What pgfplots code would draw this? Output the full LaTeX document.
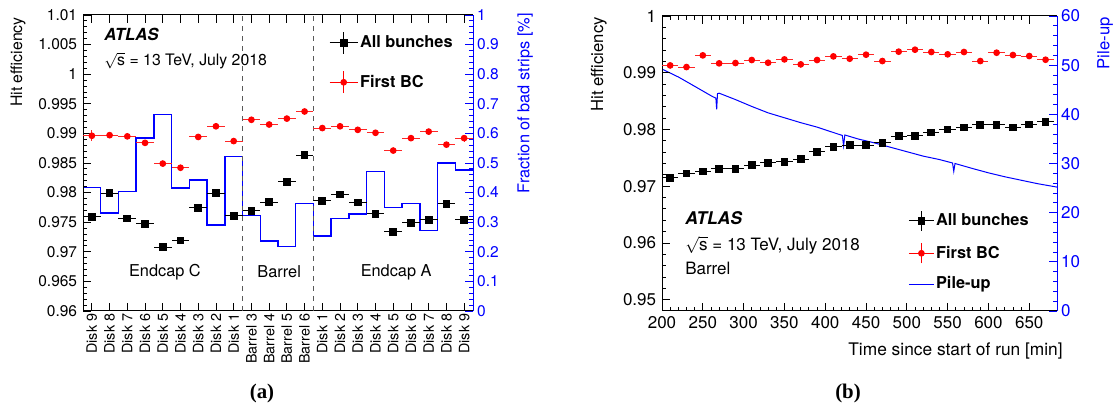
\documentclass[border=0pt]{standalone}
\usepackage{pgfplots}
\pgfplotsset{compat=1.18}
\usepackage{pgfplotstable}
\usepackage{fontspec}
\setmainfont{TeX Gyre Heros}
\newfontfamily\serifbf{Liberation Serif}

\pgfplotstableread{
x ab abe fb fbe
0 0.9759 0.0002 0.9896 0.0009
1 0.9799 0.0002 0.9897 0.0003
2 0.9756 0.0002 0.9895 0.0003
3 0.9747 0.0002 0.9884 0.0003
4 0.9708 0.0002 0.9849 0.0003
5 0.9719 0.0002 0.9842 0.0003
6 0.9774 0.0002 0.9894 0.0003
7 0.9799 0.0002 0.9912 0.0003
8 0.9761 0.0002 0.9887 0.0003
9 0.9769 0.0002 0.9923 0.0003
10 0.9784 0.0002 0.9915 0.0003
11 0.9818 0.0002 0.9925 0.0003
12 0.9863 0.0002 0.9937 0.0003
13 0.9786 0.0002 0.9909 0.0003
14 0.9797 0.0002 0.9912 0.0003
15 0.9783 0.0002 0.9906 0.0003
16 0.9764 0.0002 0.9901 0.0003
17 0.9734 0.0002 0.9871 0.0003
18 0.9749 0.0002 0.9892 0.0003
19 0.9754 0.0002 0.9903 0.0003
20 0.9781 0.0002 0.9881 0.0003
21 0.9754 0.0002 0.9892 0.0006
}\leftdata

\pgfplotstableread{
x h
-0.5 0.418
0.5 0.331
1.5 0.403
2.5 0.584
3.5 0.663
4.5 0.416
5.5 0.442
6.5 0.291
7.5 0.522
8.5 0.322
9.5 0.236
10.5 0.218
11.5 0.364
12.5 0.254
13.5 0.313
14.5 0.328
15.5 0.472
16.5 0.349
17.5 0.364
18.5 0.272
19.5 0.500
20.5 0.476
21.5 0.476
}\histdata

\pgfplotstableread{
t ab abe fb fbe
210 0.97147 0.00012 0.99129 0.00025
230 0.97224 0.00012 0.99100 0.00025
250 0.97259 0.00012 0.99306 0.00025
270 0.97306 0.00012 0.99165 0.00025
290 0.97306 0.00012 0.99171 0.00025
310 0.97371 0.00012 0.99224 0.00025
330 0.97412 0.00012 0.99176 0.00025
350 0.97429 0.00012 0.99235 0.00025
370 0.97476 0.00012 0.99147 0.00025
390 0.97606 0.00012 0.99224 0.00025
410 0.97694 0.00012 0.99288 0.00025
430 0.97724 0.00012 0.99247 0.00025
450 0.97724 0.00012 0.99318 0.00025
470 0.97765 0.00012 0.99206 0.00025
490 0.97882 0.00012 0.99371 0.00025
510 0.97888 0.00012 0.99406 0.00025
530 0.97947 0.00012 0.99365 0.00025
550 0.98000 0.00012 0.99324 0.00025
570 0.98035 0.00012 0.99365 0.00025
590 0.98082 0.00012 0.99206 0.00025
610 0.98082 0.00012 0.99353 0.00025
630 0.98035 0.00012 0.99312 0.00025
650 0.98088 0.00012 0.99294 0.00025
670 0.98135 0.00012 0.99229 0.00025
}\rightdata

\pgfplotstableread{
t pu
200 49.2
220 47.6
240 45.7
262 43.6
266 43.3
267 41.0
268 44.2
270 44.3
290 43.0
310 41.6
330 40.3
350 39.3
370 38.3
390 37.4
410 36.3
421 35.7
422.5 33.6
424 35.8
440 35.0
460 34.2
480 33.3
500 32.4
520 31.5
540 30.8
556 30.1
557.5 28.4
559 30.0
580 29.0
600 28.1
620 27.3
640 26.6
660 25.9
684 25.2
}\pudata

\pgfplotsset{
  every axis/.append style={
    scale only axis,
    tick align=inside,
    /pgf/number format/assume math mode=true,
    major tick length=5pt,
    minor tick length=2.6pt,
    every tick/.style={line width=0.5pt},
    axis line style={line width=0.6pt},
  },
  allb/.style={black, only marks, mark=square*, mark size=2pt, line width=0.6pt,
    error bars/.cd, x dir=both, x fixed=#1, y dir=both, y explicit,
    error mark=none, error bar style={black, line width=0.6pt}},
  firstbc/.style={red, only marks, mark=*, mark size=1.7pt, line width=0.6pt,
    error bars/.cd, x dir=both, x fixed=#1, y dir=both, y explicit,
    error mark=none, error bar style={red!85!white, line width=0.6pt}},
}

\newcommand{\rts}{\smash{$\sqrt{\mbox{s}}$}}

\begin{document}
\begin{tikzpicture}
\useasboundingbox (0,0) rectangle (669pt,245.4pt);

% ---------------- Panel (a): blue right axis ----------------
\begin{axis}[at={(49.8pt,58.8pt)}, anchor=south west,
  width=234pt, height=177.6pt,
  xmin=-0.5, xmax=21.5, ymin=0, ymax=1,
  axis x line=none, axis y line*=right,
  ytick={0,0.1,0.2,0.3,0.4,0.5,0.6,0.7,0.8,0.9,1},
  minor y tick num=4,
  y axis line style={blue, line width=0.6pt},
  every y tick/.style={blue, line width=0.5pt},
  yticklabel style={blue, font=\fontsize{9.3}{10}\selectfont, xshift=-1pt},
  yticklabel={\pgfmathprintnumber[fixed, precision=1]{\tick}},
]
\addplot[blue, line width=0.9pt, const plot mark left] table[x=x, y=h] {\histdata};
\end{axis}

% ---------------- Panel (a): main axis ----------------
\begin{axis}[at={(49.8pt,58.8pt)}, anchor=south west,
  width=234pt, height=177.6pt,
  xmin=-0.5, xmax=21.5, ymin=0.96, ymax=1.01,
  axis y line*=left,
  xtick={0,...,21},
  xticklabels={Disk 9,Disk 8,Disk 7,Disk 6,Disk 5,Disk 4,Disk 3,Disk 2,Disk 1,Barrel 3,Barrel 4,Barrel 5,Barrel 6,Disk 1,Disk 2,Disk 3,Disk 4,Disk 5,Disk 6,Disk 7,Disk 8,Disk 9},
  xticklabel style={rotate=90, anchor=east, font=\fontsize{8.6}{9}\selectfont, inner sep=1.5pt},
  xtick pos=both,
  ytick={0.96,0.965,0.97,0.975,0.98,0.985,0.99,0.995,1,1.005,1.01},
  minor y tick num=4,
  yticklabel style={font=\fontsize{9.3}{10}\selectfont},
  yticklabel={\pgfmathprintnumber[fixed, precision=3]{\tick}},
  legend style={at={(rel axis cs:0.63,0.945)}, anchor=north west, draw=none, fill=none,
    font=\bfseries\fontsize{9.8}{10}\selectfont, row sep=10pt, inner sep=0pt,
    nodes={inner sep=1pt}},
  legend cell align=left,
]
\addplot[gray!70!black, dashed, line width=0.7pt, forget plot] coordinates {(8.5,0.96) (8.5,1.01)};
\addplot[gray!70!black, dashed, line width=0.7pt, forget plot] coordinates {(12.5,0.96) (12.5,1.01)};
\addplot[legend image code/.code={
    \draw[black, line width=0.6pt] (0pt,0pt) -- (17pt,0pt) (8.5pt,-6.5pt) -- (8.5pt,6.5pt);
    \draw[black, mark=square*, mark size=2pt] plot coordinates {(8.5pt,0pt)};}, allb=0.5]
  table[x=x, y=ab, y error=abe] {\leftdata};
\addlegendentry{All bunches}
\addplot[legend image code/.code={
    \draw[red, line width=0.6pt] (0pt,0pt) -- (17pt,0pt) (8.5pt,-6.5pt) -- (8.5pt,6.5pt);
    \draw[red, mark=*, mark size=1.7pt] plot coordinates {(8.5pt,0pt)};}, firstbc=0.5]
  table[x=x, y=fb, y error=fbe] {\leftdata};
\addlegendentry{First BC}
\node[anchor=west, font=\bfseries\itshape\fontsize{10}{11}\selectfont, inner sep=0pt] at (rel axis cs:0.054,0.936) {ATLAS};
\node[anchor=west, font=\fontsize{9.5}{10}\selectfont, inner sep=0pt] at (rel axis cs:0.054,0.842) {\rts{} = 13 TeV, July 2018};
\node[font=\fontsize{9.8}{10}\selectfont] at (rel axis cs:0.210,0.132) {Endcap C};
\node[font=\fontsize{9.8}{10}\selectfont] at (rel axis cs:0.503,0.132) {Barrel};
\node[font=\fontsize{9.8}{10}\selectfont] at (rel axis cs:0.803,0.132) {Endcap A};
\end{axis}

% ---------------- Panel (b): blue right axis ----------------
\begin{axis}[at={(397.2pt,58.8pt)}, anchor=south west,
  width=237pt, height=177pt,
  xmin=200, xmax=684, ymin=0, ymax=60,
  axis x line=none, axis y line*=right,
  ytick={0,10,20,30,40,50,60},
  minor y tick num=4,
  y axis line style={blue, line width=0.6pt},
  every y tick/.style={blue, line width=0.5pt},
  yticklabel style={blue, font=\fontsize{10.2}{11}\selectfont, xshift=-1pt},
]
\addplot[blue, line width=0.6pt] table[x=t, y=pu] {\pudata};
\end{axis}

% ---------------- Panel (b): main axis ----------------
\begin{axis}[at={(397.2pt,58.8pt)}, anchor=south west,
  width=237pt, height=177pt,
  xmin=200, xmax=684, ymin=0.948, ymax=1,
  axis y line*=left,
  xtick={200,250,...,650},
  minor x tick num=4,
  xtick pos=both,
  xticklabel style={font=\fontsize{10.2}{11}\selectfont},
  ytick={0.95,0.96,0.97,0.98,0.99,1},
  minor y tick num=4,
  yticklabel style={font=\fontsize{10.2}{11}\selectfont},
  yticklabel={\pgfmathprintnumber[fixed, precision=2]{\tick}},
  legend style={at={(rel axis cs:0.623,0.342)}, anchor=north west, draw=none, fill=none,
    font=\bfseries\fontsize{9.8}{10}\selectfont, row sep=6.8pt, inner sep=0pt,
    nodes={inner sep=1pt}},
  legend cell align=left,
]
\addplot[legend image code/.code={
    \draw[black, line width=0.6pt] (0pt,0pt) -- (15pt,0pt) (7.5pt,-6pt) -- (7.5pt,6pt);
    \draw[black, mark=square*, mark size=1.9pt] plot coordinates {(7.5pt,0pt)};}, allb=10]
  table[x=t, y=ab, y error=abe] {\rightdata};
\addlegendentry{All bunches}
\addplot[legend image code/.code={
    \draw[red, line width=0.6pt] (0pt,0pt) -- (15pt,0pt) (7.5pt,-6pt) -- (7.5pt,6pt);
    \draw[red, mark=*, mark size=1.7pt] plot coordinates {(7.5pt,0pt)};}, firstbc=10]
  table[x=t, y=fb, y error=fbe] {\rightdata};
\addlegendentry{First BC}
\addlegendimage{legend image code/.code={\draw[blue, line width=0.6pt] (0pt,0pt) -- (15pt,0pt);}}
\addlegendentry{Pile-up}
\node[anchor=west, font=\bfseries\itshape\fontsize{10.5}{11}\selectfont, inner sep=0pt] at (rel axis cs:0.058,0.314) {ATLAS};
\node[anchor=west, font=\fontsize{10.2}{11}\selectfont, inner sep=0pt] at (rel axis cs:0.058,0.221) {\rts{} = 13 TeV, July 2018};
\node[anchor=west, font=\fontsize{10.2}{11}\selectfont, inner sep=0pt] at (rel axis cs:0.058,0.144) {Barrel};
\end{axis}

% ---------------- outer labels ----------------
\node[rotate=90, anchor=south east, inner sep=0pt, font=\fontsize{9.5}{10}\selectfont] at (15.6pt,235.2pt) {Hit efficiency};
\node[rotate=90, anchor=north east, inner sep=0pt, blue, font=\fontsize{9.8}{10}\selectfont] at (310.2pt,237.6pt) {Fraction of bad strips [\%]};
\node[rotate=90, anchor=south east, inner sep=0pt, font=\fontsize{10}{11}\selectfont] at (364.2pt,235.2pt) {Hit efficiency};
\node[rotate=90, anchor=north east, inner sep=0pt, blue, font=\fontsize{10}{11}\selectfont] at (658.2pt,235.2pt) {Pile-up};
\node[anchor=east, inner sep=0pt, font=\fontsize{10.4}{11}\selectfont] at (637.8pt,34.8pt) {Time since start of run [min]};
\node[font=\serifbf\bfseries\fontsize{12.5}{13}\selectfont] at (157.2pt,9.6pt) {(a)};
\node[font=\serifbf\bfseries\fontsize{12.5}{13}\selectfont] at (508.8pt,9.6pt) {(b)};
\end{tikzpicture}
\end{document}
